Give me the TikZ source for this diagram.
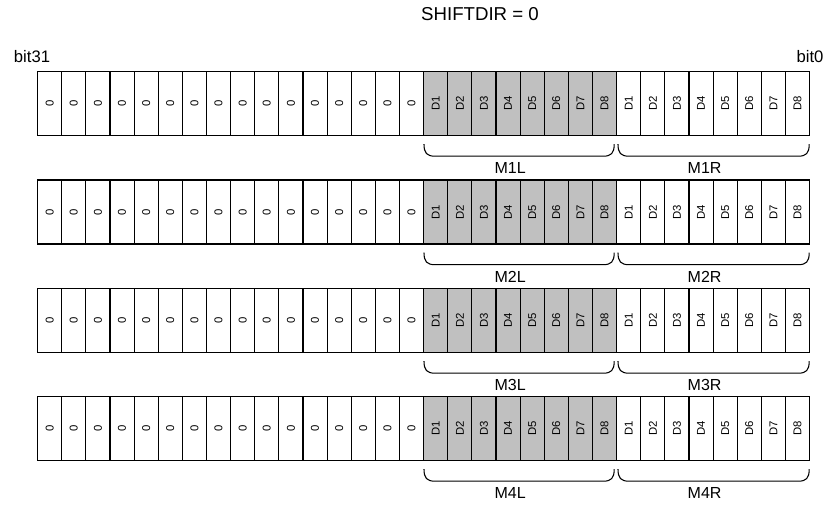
\documentclass[tikz,border=0pt]{standalone}
\usepackage{fontspec}
\setmainfont{Liberation Sans}
\usetikzlibrary{positioning,calc}
\definecolor{regshade}{HTML}{C0C0C0}
\newcommand\vtext[1]{\rotatebox{90}{#1}}

\tikzset{
  cellbox/.style={draw=black,line width=0.9pt,minimum width=18.1pt,minimum height=48pt,
                  anchor=north west,inner sep=0pt,
                  font=\fontsize{8.5}{9}\selectfont},
  datacell/.style={cellbox,fill=regshade},
  fieldbrace/.style={draw=black,line width=0.8pt},
  fieldlabel/.style={font=\fontsize{12}{14}\selectfont,inner sep=0pt},
}

\begin{document}
\begin{tikzpicture}[x=0.75pt,y=-0.75pt]
  \useasboundingbox (0,0) rectangle (829,505);
  \node[fieldlabel,font=\fontsize{14}{16}\selectfont] (shiftdir) at (480,14) {SHIFTDIR = 0};
  \node[fieldlabel,font=\fontsize{12.5}{14}\selectfont] (bit31) at (32,57) {bit31};
  \node[fieldlabel,font=\fontsize{12.5}{14}\selectfont] (bit0) at (810,57) {bit0};
  \foreach \r/\top in {1/71,2/179.5,3/288,4/396} {
    % zero bits
    \foreach \c in {0,...,15}
      \node[cellbox] (r\r c\c) at (37+24.125*\c,\top) {\vtext{0}};
    % shaded byte
    \foreach \c in {16,...,23} {
      \pgfmathtruncatemacro\d{\c-15}
      \node[datacell] (r\r c\c) at (37+24.125*\c,\top) {\vtext{D\d}};
    }
    % plain byte
    \foreach \c in {24,...,31} {
      \pgfmathtruncatemacro\d{\c-23}
      \node[cellbox] (r\r c\c) at (37+24.125*\c,\top) {\vtext{D\d}};
    }
    \coordinate (L\r a) at ($(r\r c16.south west)+(1,8)$);
    \coordinate (L\r b) at ($(r\r c23.south east)+(-3,8)$);
    \coordinate (R\r a) at ($(r\r c24.south west)+(2,8)$);
    \coordinate (R\r b) at ($(r\r c31.south east)+(-1,8)$);
    \draw[fieldbrace] (L\r a) .. controls +(0,9) and +(-8,0) .. ++(11,12)
      -- ($(L\r b)+(-11,12)$) .. controls +(8,0) and +(0,9) .. (L\r b);
    \draw[fieldbrace] (R\r a) .. controls +(0,9) and +(-8,0) .. ++(11,12)
      -- ($(R\r b)+(-11,12)$) .. controls +(8,0) and +(0,9) .. (R\r b);
    \node[fieldlabel] (m\r l) at ($(L\r a)!0.5!(L\r b)+(-9,24)$) {M\r L};
    \node[fieldlabel] (m\r r) at ($(R\r a)!0.5!(R\r b)+(-9,24)$) {M\r R};
  }
\end{tikzpicture}
\end{document}
